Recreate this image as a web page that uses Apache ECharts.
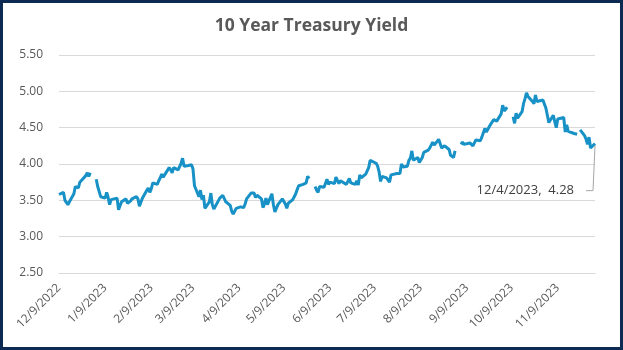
<!DOCTYPE html>
<html>
<head>
<meta charset="utf-8">
<script src="https://cdn.jsdelivr.net/npm/echarts@6/dist/echarts.min.js"></script>
<style>
html,body{margin:0;padding:0;background:#fff;}
#chart{width:623px;height:350px;}
</style>
</head>
<body>
<div id="chart"></div>
<script>
// Business-day dates (null yield = no data, drawn as a gap)
var dates = [
'2022-12-09','2022-12-12','2022-12-13','2022-12-14','2022-12-15','2022-12-16','2022-12-19','2022-12-20','2022-12-21','2022-12-22','2022-12-23','2022-12-27','2022-12-28','2022-12-29','2022-12-30',
'2023-01-02','2023-01-03','2023-01-04','2023-01-05','2023-01-06','2023-01-09','2023-01-10','2023-01-11','2023-01-12','2023-01-13','2023-01-17','2023-01-18','2023-01-19','2023-01-20','2023-01-23','2023-01-24','2023-01-25','2023-01-26','2023-01-27','2023-01-30','2023-01-31',
'2023-02-01','2023-02-02','2023-02-03','2023-02-06','2023-02-07','2023-02-08','2023-02-09','2023-02-10','2023-02-13','2023-02-14','2023-02-15','2023-02-16','2023-02-17','2023-02-21','2023-02-22','2023-02-23','2023-02-24','2023-02-27','2023-02-28',
'2023-03-01','2023-03-02','2023-03-03','2023-03-06','2023-03-07','2023-03-08','2023-03-09','2023-03-10','2023-03-13','2023-03-14','2023-03-15','2023-03-16','2023-03-17','2023-03-20','2023-03-21','2023-03-22','2023-03-23','2023-03-24','2023-03-27','2023-03-28','2023-03-29','2023-03-30','2023-03-31',
'2023-04-03','2023-04-04','2023-04-05','2023-04-06','2023-04-07','2023-04-10','2023-04-11','2023-04-12','2023-04-13','2023-04-14','2023-04-17','2023-04-18','2023-04-19','2023-04-20','2023-04-21','2023-04-24','2023-04-25','2023-04-26','2023-04-27','2023-04-28',
'2023-05-01','2023-05-02','2023-05-03','2023-05-04','2023-05-05','2023-05-08','2023-05-09','2023-05-10','2023-05-11','2023-05-12','2023-05-15','2023-05-16','2023-05-17','2023-05-18','2023-05-19','2023-05-22','2023-05-23','2023-05-24','2023-05-25','2023-05-26','2023-05-29','2023-05-30','2023-05-31',
'2023-06-01','2023-06-02','2023-06-05','2023-06-06','2023-06-07','2023-06-08','2023-06-09','2023-06-12','2023-06-13','2023-06-14','2023-06-15','2023-06-16','2023-06-20','2023-06-21','2023-06-22','2023-06-23','2023-06-26','2023-06-27','2023-06-28','2023-06-29','2023-06-30',
'2023-07-03','2023-07-05','2023-07-06','2023-07-07','2023-07-10','2023-07-11','2023-07-12','2023-07-13','2023-07-14','2023-07-17','2023-07-18','2023-07-19','2023-07-20','2023-07-21','2023-07-24','2023-07-25','2023-07-26','2023-07-27','2023-07-28','2023-07-31',
'2023-08-01','2023-08-02','2023-08-03','2023-08-04','2023-08-07','2023-08-08','2023-08-09','2023-08-10','2023-08-11','2023-08-14','2023-08-15','2023-08-16','2023-08-17','2023-08-18','2023-08-21','2023-08-22','2023-08-23','2023-08-24','2023-08-25','2023-08-28','2023-08-29','2023-08-30','2023-08-31',
'2023-09-01','2023-09-04','2023-09-05','2023-09-06','2023-09-07','2023-09-08','2023-09-11','2023-09-12','2023-09-13','2023-09-14','2023-09-15','2023-09-18','2023-09-19','2023-09-20','2023-09-21','2023-09-22','2023-09-25','2023-09-26','2023-09-27','2023-09-28','2023-09-29',
'2023-10-02','2023-10-03','2023-10-04','2023-10-05','2023-10-06','2023-10-09','2023-10-10','2023-10-11','2023-10-12','2023-10-13','2023-10-16','2023-10-17','2023-10-18','2023-10-19','2023-10-20','2023-10-23','2023-10-24','2023-10-25','2023-10-26','2023-10-27','2023-10-30','2023-10-31',
'2023-11-01','2023-11-02','2023-11-03','2023-11-06','2023-11-07','2023-11-08','2023-11-09','2023-11-10','2023-11-13','2023-11-14','2023-11-15','2023-11-16','2023-11-17','2023-11-20','2023-11-21','2023-11-22','2023-11-23','2023-11-24','2023-11-27','2023-11-28','2023-11-29','2023-11-30',
'2023-12-01','2023-12-04'
];
var yields = [
3.58,3.61,3.50,3.48,3.44,3.48,3.59,3.69,3.68,3.67,3.75,3.84,3.88,3.83,3.88,
null,3.79,3.69,3.71,3.55,3.53,3.61,3.54,3.44,3.51,3.53,3.37,3.39,3.48,3.52,3.46,3.46,3.49,3.52,3.55,3.52,
3.42,3.40,3.53,3.64,3.67,3.61,3.66,3.74,3.72,3.77,3.81,3.86,3.82,3.95,3.92,3.88,3.95,3.92,3.92,
4.01,4.08,3.97,3.98,3.97,3.99,3.93,3.70,3.55,3.64,3.51,3.57,3.39,3.48,3.60,3.44,3.38,3.38,3.53,3.55,3.57,3.55,3.48,
3.43,3.35,3.31,3.30,3.39,3.41,3.43,3.40,3.45,3.52,3.60,3.59,3.60,3.54,3.57,3.52,3.40,3.45,3.53,3.44,
3.59,3.44,3.34,3.39,3.44,3.52,3.52,3.45,3.39,3.46,3.51,3.55,3.59,3.65,3.70,3.72,3.70,3.74,3.83,3.80,null,3.69,3.64,
3.61,3.69,3.68,3.70,3.79,3.72,3.75,3.73,3.82,3.81,3.73,3.77,3.72,3.72,3.80,3.74,3.72,3.77,3.71,3.85,3.81,
3.86,3.95,4.05,4.06,4.01,3.97,3.89,3.76,3.83,3.81,3.80,3.75,3.85,3.84,3.87,3.89,3.87,4.00,3.96,3.97,
4.05,4.08,4.18,4.05,4.09,4.02,4.01,4.09,4.16,4.19,4.22,4.26,4.30,4.26,4.34,4.33,4.22,4.24,4.25,4.20,4.12,4.12,4.09,
4.18,null,4.27,4.30,4.27,4.26,4.29,4.27,4.25,4.29,4.33,4.32,4.37,4.35,4.49,4.44,4.55,4.56,4.61,4.59,4.59,
4.69,4.81,4.73,4.72,4.78,null,4.65,4.56,4.70,4.63,4.72,4.83,4.90,4.98,4.93,4.86,4.83,4.95,4.86,4.84,4.88,4.88,
4.77,4.67,4.57,4.67,4.58,4.50,4.62,4.61,4.64,4.44,4.54,4.45,4.44,4.42,4.41,4.41,null,4.47,4.39,4.34,4.27,4.37,
4.22,4.28
];
var xTickDates = ['2022-12-09','2023-01-09','2023-02-09','2023-03-09','2023-04-09','2023-05-09','2023-06-09','2023-07-09','2023-08-09','2023-09-09','2023-10-09','2023-11-09'];
var yTicks = [2.5, 3.0, 3.5, 4.0, 4.5, 5.0, 5.5];

function toTime(s){ var p = s.split('-'); return new Date(+p[0], +p[1]-1, +p[2]).getTime(); }
function fmtDate(t){ var d = new Date(t); return (d.getMonth()+1) + '/' + d.getDate() + '/' + d.getFullYear(); }

var lastIdx = dates.length - 1;
var seriesData = dates.map(function(d, i){
  return [toTime(d), yields[i] === null ? '-' : yields[i]];
});

var chart = echarts.init(document.getElementById('chart'), null, { renderer: 'canvas' });
chart.setOption({
  animation: false,
  backgroundColor: '#ffffff',
  title: {
    text: '10 Year Treasury Yield',
    left: 'center', top: 12,
    textStyle: { fontFamily: 'Open Sans', fontWeight: 'bold', fontSize: 17.5, color: '#595959' }
  },
  grid: { left: 59, right: 28, top: 55, bottom: 77 },
  xAxis: {
    type: 'value',
    min: toTime(dates[0]), max: toTime(dates[lastIdx]),
    axisLine: { show: true, lineStyle: { color: '#d9d9d9', width: 1 } },
    axisTick: { show: false },
    splitLine: { show: false },
    axisLabel: {
      customValues: xTickDates.map(toTime),
      rotate: 45, margin: 13,
      formatter: function(v){ return fmtDate(v); },
      fontFamily: 'Open Sans', fontSize: 12, color: '#595959'
    }
  },
  yAxis: {
    type: 'value', min: yTicks[0], max: yTicks[yTicks.length-1], interval: 0.5,
    axisLine: { show: false }, axisTick: { show: false },
    splitLine: { lineStyle: { color: '#d9d9d9', width: 1 } },
    axisLabel: {
      margin: 16,
      formatter: function(v){ return v.toFixed(2); },
      fontFamily: 'Open Sans', fontSize: 12, color: '#595959'
    }
  },
  series: [{
    type: 'line',
    data: seriesData,
    showSymbol: false,
    connectNulls: false,
    lineStyle: { color: '#1791c6', width: 3 },
    itemStyle: { color: '#1791c6' }
  }],
  graphic: [{
    type: 'rect', silent: true, z: 100,
    shape: { x: 1.5, y: 1.5, width: 620, height: 347 },
    style: { fill: 'none', stroke: '#0d2b52', lineWidth: 3 }
  }]
});

// Data label for the last point, with a leader line, placed relative to the point's pixel position
var lastT = toTime(dates[lastIdx]), lastV = yields[lastIdx];
var p = chart.convertToPixel({ gridIndex: 0 }, [lastT, lastV]);
chart.setOption({
  graphic: [{
    type: 'rect', silent: true, z: 100,
    shape: { x: 1.5, y: 1.5, width: 620, height: 347 },
    style: { fill: 'none', stroke: '#0d2b52', lineWidth: 3 }
  }, {
    type: 'polyline', silent: true, z: 50,
    shape: { points: [[p[0], p[1] + 2], [p[0] - 2, p[1] + 47], [p[0] - 9, p[1] + 47]] },
    style: { fill: 'none', stroke: '#a6a6a6', lineWidth: 1 }
  }, {
    type: 'text', silent: true, z: 50,
    x: p[0] - 21, y: p[1] + 47,
    style: {
      text: fmtDate(lastT) + ',  ' + lastV.toFixed(2),
      align: 'right', verticalAlign: 'middle',
      fontFamily: 'Open Sans', fontSize: 13, fill: '#404040'
    }
  }]
});
</script>
</body>
</html>
